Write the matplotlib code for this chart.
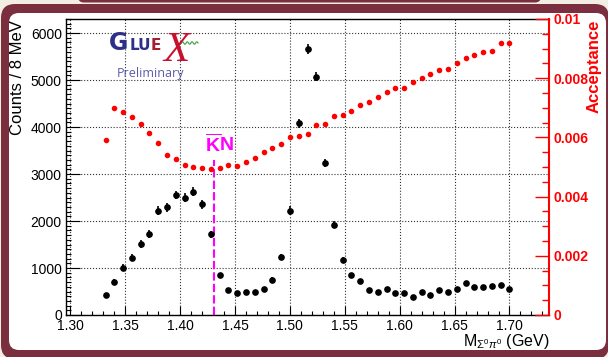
import numpy as np
import matplotlib.pyplot as plt
from matplotlib.patches import FancyBboxPatch
from matplotlib.ticker import MultipleLocator, FormatStrFormatter, FuncFormatter

plt.rcParams['font.family'] = ['Liberation Sans', 'DejaVu Sans']
plt.rcParams['mathtext.fontset'] = 'custom'
plt.rcParams['mathtext.rm'] = 'Liberation Sans'
plt.rcParams['mathtext.it'] = 'Liberation Sans:italic'
plt.rcParams['mathtext.bf'] = 'Liberation Sans:bold'

# Sigma0 pi0 invariant mass, 8 MeV bins (bin centres in GeV)
mass = np.round(1.332 + 0.008*np.arange(47), 3)

counts = [419, 709, 1007, 1220, 1518, 1723, 2220, 2291, 2554, 2497,
          2625, 2355, 1716, 844, 539, 468, 482, 496, 560, 752,
          1227, 2220, 4079, 5654, 5072, 3228, 1922, 1177, 858, 723,
          525, 489, 553, 461, 461, 383, 489, 426, 525, 496,
          560, 674, 596, 596, 617, 632, 560]
count_err = [40, 50, 75, 80, 85, 90, 95, 95, 95, 95,
             100, 90, 75, 50, 40, 35, 35, 35, 40, 50,
             65, 90, 100, 105, 100, 85, 70, 55, 45, 40,
             35, 35, 35, 35, 35, 30, 35, 30, 35, 35,
             35, 40, 35, 35, 35, 35, 35]
acceptance = [0.00590, 0.00699, 0.00687, 0.00670, 0.00646, 0.00614, 0.00581, 0.00539, 0.00526, 0.00507,
              0.00499, 0.00497, 0.00493, 0.00497, 0.00506, 0.00504, 0.00518, 0.00530, 0.00551, 0.00565,
              0.00579, 0.00601, 0.00606, 0.00611, 0.00642, 0.00644, 0.00672, 0.00677, 0.00690, 0.00708,
              0.00721, 0.00735, 0.00752, 0.00767, 0.00767, 0.00788, 0.00802, 0.00814, 0.00828, 0.00832,
              0.00850, 0.00867, 0.00880, 0.00889, 0.00893, 0.00918, 0.00920]

# KbarN threshold marker
kn_threshold = 1.431
kn_line_top = 3300

W, H = 608, 357
maroon = '#7a2e3e'
fig = plt.figure(figsize=(W/100, H/100), dpi=100, facecolor='#f3eee4')

# slide frame, drawn in pixel units
bg = fig.add_axes([0, 0, 1, 1], zorder=-1)
bg.set_xlim(0, W)
bg.set_ylim(H, 0)
bg.axis('off')
bg.add_patch(FancyBboxPatch((78, -20), 463, 22.5, boxstyle='round,pad=0,rounding_size=6',
                            fc=maroon, ec='none'))
bg.add_patch(FancyBboxPatch((1, 4), 608, 355, boxstyle='round,pad=0,rounding_size=14',
                            fc=maroon, ec='none'))
bg.add_patch(FancyBboxPatch((9, 13), 597, 337, boxstyle='round,pad=0,rounding_size=10',
                            fc='white', ec='none'))

ax = fig.add_axes([66/W, (H-315)/H, 483/W, 296/H])
ax.set_facecolor('none')
ax.set_xlim(1.296, 1.736)
ax.set_ylim(0, 6300)

ax.errorbar(mass, counts, yerr=count_err, fmt='o', color='black', ms=3.8,
            elinewidth=1.2, capsize=0, zorder=3)
ax.plot([kn_threshold, kn_threshold], [0, kn_line_top], color='#ff00ff',
        linestyle=(0, (4, 1.5)), linewidth=1.5, zorder=2)

ax.xaxis.set_major_locator(MultipleLocator(0.05))
ax.xaxis.set_minor_locator(MultipleLocator(0.01))
ax.xaxis.set_major_formatter(FormatStrFormatter('%.2f'))
ax.yaxis.set_major_locator(MultipleLocator(1000))
ax.yaxis.set_minor_locator(MultipleLocator(100))
ax.tick_params(which='both', direction='in', top=False, right=False, width=0.8)
ax.tick_params(axis='x', which='major', length=6.5, labelsize=10, pad=3)
ax.tick_params(axis='x', which='minor', length=3.2)
ax.tick_params(axis='y', which='major', length=10, labelsize=10, pad=3)
ax.tick_params(axis='y', which='minor', length=3.6)
ax.grid(which='major', linestyle=':', color='#333333', linewidth=0.8)
ax.spines['right'].set_visible(False)
for s in ['left', 'top', 'bottom']:
    ax.spines[s].set_linewidth(1.0)

ax2 = ax.twinx()
ax2.set_ylim(0, 0.01)
ax2.plot(mass, acceptance, 'o', color='red', ms=4, mec='none', zorder=3)
ax2.yaxis.set_major_locator(MultipleLocator(0.002))
ax2.yaxis.set_minor_locator(MultipleLocator(0.0005))
ax2.yaxis.set_major_formatter(FuncFormatter(lambda v, p: f'{v:g}'))
ax2.tick_params(which='both', direction='in', color='red', width=1.0)
ax2.tick_params(which='major', length=10, labelsize=10, pad=3, labelcolor='red')
ax2.tick_params(which='minor', length=5)
for lab in ax2.get_yticklabels():
    lab.set_fontweight('bold')
for s in ['left', 'top', 'bottom']:
    ax2.spines[s].set_visible(False)
ax2.spines['right'].set_color('red')
ax2.spines['right'].set_linewidth(1.5)

fig.text(18/W, 1 - 20/H, 'Counts / 8 MeV', rotation=90, ha='center', va='top', fontsize=12)
fig.text(594/W, 1 - 20/H, 'Acceptance', rotation=90, ha='center', va='top',
         fontsize=12, color='red', fontweight='bold')
fig.text(549/W, (H-346)/H, r'M$_{\Sigma^{0}\pi^{0}}$ (GeV)', ha='right', va='baseline', fontsize=11.5)

# overlay: logo and threshold label
fg = fig.add_axes([0, 0, 1, 1], zorder=10)
fg.set_xlim(0, W)
fg.set_ylim(H, 0)
fg.axis('off')
fg.patch.set_alpha(0)
fg.text(109, 50, 'G', fontsize=17, fontweight='bold', color='#2c3187',
        family='DejaVu Sans', ha='left', va='baseline')
fg.text(130, 50, 'LU', fontsize=11, fontweight='bold', color='#2c3187',
        family='DejaVu Sans', ha='left', va='baseline')
fg.text(151, 50, 'E', fontsize=11, fontweight='bold', color='#a3202e',
        family='DejaVu Sans', ha='left', va='baseline')
fg.text(163, 61, 'X', fontsize=31, style='italic', color='#c8102e',
        family='Liberation Serif', ha='left', va='baseline')
wx = np.linspace(179, 198, 80)
fg.plot(wx, 43 + 1.2*np.sin((wx - 179)/19*4*2*np.pi), color='#3d9a3d', lw=0.8)
fg.text(151, 77, 'Preliminary', fontsize=9, color='#5b5ca8', family='Open Sans',
        ha='center', va='baseline')
fg.text(219, 152, r'$\overline{\mathbf{K}}\mathbf{N}$', fontsize=14, color='#ff00ff',
        ha='center', va='baseline')

fig.savefig('out.png', dpi=100, facecolor=fig.get_facecolor())
